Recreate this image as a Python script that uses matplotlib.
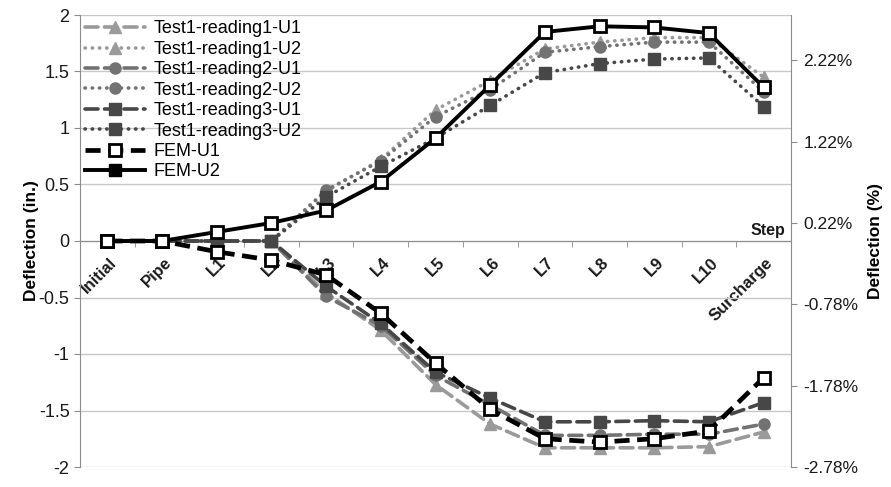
import matplotlib
matplotlib.use("Agg")
import matplotlib.pyplot as plt
import matplotlib.transforms as mtransforms
from matplotlib.lines import Line2D
import numpy as np

plt.rcParams['font.family'] = ['Liberation Sans', 'DejaVu Sans']
plt.rcParams['axes.unicode_minus'] = False

steps = ['Initial', 'Pipe', 'L1', 'L2', 'L3', 'L4', 'L5', 'L6', 'L7', 'L8', 'L9', 'L10', 'Surcharge']

r1_u1 = [0, 0, 0, 0, -0.46, -0.79, -1.27, -1.62, -1.83, -1.83, -1.83, -1.82, -1.69]
r1_u2 = [0, 0, 0, 0, 0.44, 0.72, 1.16, 1.42, 1.70, 1.76, 1.80, 1.80, 1.45]
r2_u1 = [0, 0, 0, 0, -0.49, -0.75, -1.19, -1.45, -1.72, -1.72, -1.71, -1.71, -1.62]
r2_u2 = [0, 0, 0, 0, 0.45, 0.71, 1.10, 1.34, 1.67, 1.72, 1.76, 1.76, 1.32]
r3_u1 = [0, 0, 0, 0, -0.40, -0.73, -1.16, -1.39, -1.60, -1.60, -1.59, -1.60, -1.43]
r3_u2 = [0, 0, 0, 0, 0.39, 0.66, 0.91, 1.20, 1.49, 1.57, 1.61, 1.62, 1.19]
fem_u1 = [0, 0, -0.095, -0.17, -0.30, -0.64, -1.08, -1.49, -1.75, -1.78, -1.75, -1.68, -1.21]
fem_u2 = [0, 0, 0.08, 0.16, 0.27, 0.525, 0.91, 1.38, 1.85, 1.90, 1.89, 1.84, 1.36]

pct_ticks = [-2.78, -1.78, -0.78, 0.22, 1.22, 2.22]
pipe_diam_factor = 0.72  # inches per percent

fig = plt.figure(figsize=(8.91, 4.87), dpi=100)
ax = fig.add_axes([80/891, 1-467/487, 711/891, 452/487])

x = np.arange(len(steps))
c1, c2, c3 = '#9a9a9a', '#727272', '#474747'
dash = (0, (3.6, 1.8))
dot = (0, (0.1, 1.9))

series = [
    ('Test1-reading1-U1', r1_u1, c1, dash, '^', 2.6),
    ('Test1-reading1-U2', r1_u2, c1, dot, '^', 2.6),
    ('Test1-reading2-U1', r2_u1, c2, dash, 'o', 2.6),
    ('Test1-reading2-U2', r2_u2, c2, dot, 'o', 2.6),
    ('Test1-reading3-U1', r3_u1, c3, dash, 's', 2.6),
    ('Test1-reading3-U2', r3_u2, c3, dot, 's', 2.6),
]
handles = []
for name, vals, col, ls, mk, lw in series:
    ln, = ax.plot(x, vals, color=col, linestyle=ls, lw=lw, marker=mk, markersize=8,
                  markerfacecolor=col, markeredgecolor=col, dash_capstyle='round',
                  solid_capstyle='round', label=name, zorder=3)
    handles.append(ln)

l_fem1, = ax.plot(x, fem_u1, color='black', linestyle=(0, (3.2, 1.6)), lw=3.4, marker='s',
                  markersize=9, markerfacecolor='white', markeredgecolor='black',
                  markeredgewidth=2, label='FEM-U1', zorder=5)
l_fem2, = ax.plot(x, fem_u2, color='black', linestyle='-', lw=2.8, marker='s',
                  markersize=9, markerfacecolor='white', markeredgecolor='black',
                  markeredgewidth=2, label='FEM-U2', zorder=6)
handles.append(l_fem1)
handles.append(Line2D([], [], color='black', lw=2.8, marker='s', markersize=9,
                      markerfacecolor='black', markeredgecolor='black', label='FEM-U2'))

ax.set_xlim(-0.5, len(steps) - 0.5)
ax.set_ylim(-2, 2)
ax.set_yticks(np.arange(-2, 2.01, 0.5))
ax.set_yticklabels(['%g' % v for v in np.arange(-2, 2.01, 0.5)])
ax.yaxis.grid(True, color='#c8c8c8', lw=1)
ax.set_axisbelow(True)

ax.spines['top'].set_visible(False)
ax.spines['right'].set_visible(False)
ax.spines['left'].set_color('#8c8c8c')
ax.spines['bottom'].set_position(('data', 0))
ax.spines['bottom'].set_color('#8c8c8c')
ax.tick_params(axis='y', colors='#8c8c8c', labelcolor='#1a1a1a', labelsize=13, length=4, direction='out')

ax.set_xticks(x)
ax.set_xticklabels(steps, rotation=45, ha='right', va='center', rotation_mode='anchor',
                   fontsize=12, fontweight='bold', color='#1a1a1a')
ax.set_xticks(np.arange(0.5, len(steps) - 0.5, 1), minor=True)
ax.tick_params(axis='x', which='major', length=0, pad=14)
ax.tick_params(axis='x', which='minor', length=4, color='#8c8c8c', direction='out')
off = mtransforms.ScaledTranslation(7/100, 0, fig.dpi_scale_trans)
for lbl in ax.get_xticklabels():
    lbl.set_transform(lbl.get_transform() + off)

ax.text(0.992, 0.03, 'Step', transform=ax.get_yaxis_transform(), ha='right', va='bottom',
        fontsize=11.5, fontweight='bold', color='#1a1a1a')

ax.set_ylabel('Deflection (in.)', fontsize=12.5, fontweight='bold', labelpad=0)

ax2 = ax.twinx()
ax2.set_ylim(-2 / pipe_diam_factor, 2 / pipe_diam_factor)
ax2.set_yticks(pct_ticks)
ax2.set_yticklabels(['%.2f%%' % v for v in pct_ticks])
for s in ['top', 'bottom', 'left']:
    ax2.spines[s].set_visible(False)
ax2.spines['right'].set_color('#8c8c8c')
ax2.tick_params(axis='y', colors='#8c8c8c', labelcolor='#1a1a1a', labelsize=12.5, length=4, pad=5)
ax2.set_ylabel('Deflection (%)', fontsize=12.5, fontweight='bold', labelpad=7)

leg = ax.legend(handles=handles, loc='upper left', bbox_to_anchor=(0.0, 1.0), frameon=False,
                fontsize=13, handlelength=3.3, labelspacing=0.19, borderaxespad=0.0,
                handletextpad=0.45, borderpad=0.3)

fig.savefig('out.png', dpi=100)
